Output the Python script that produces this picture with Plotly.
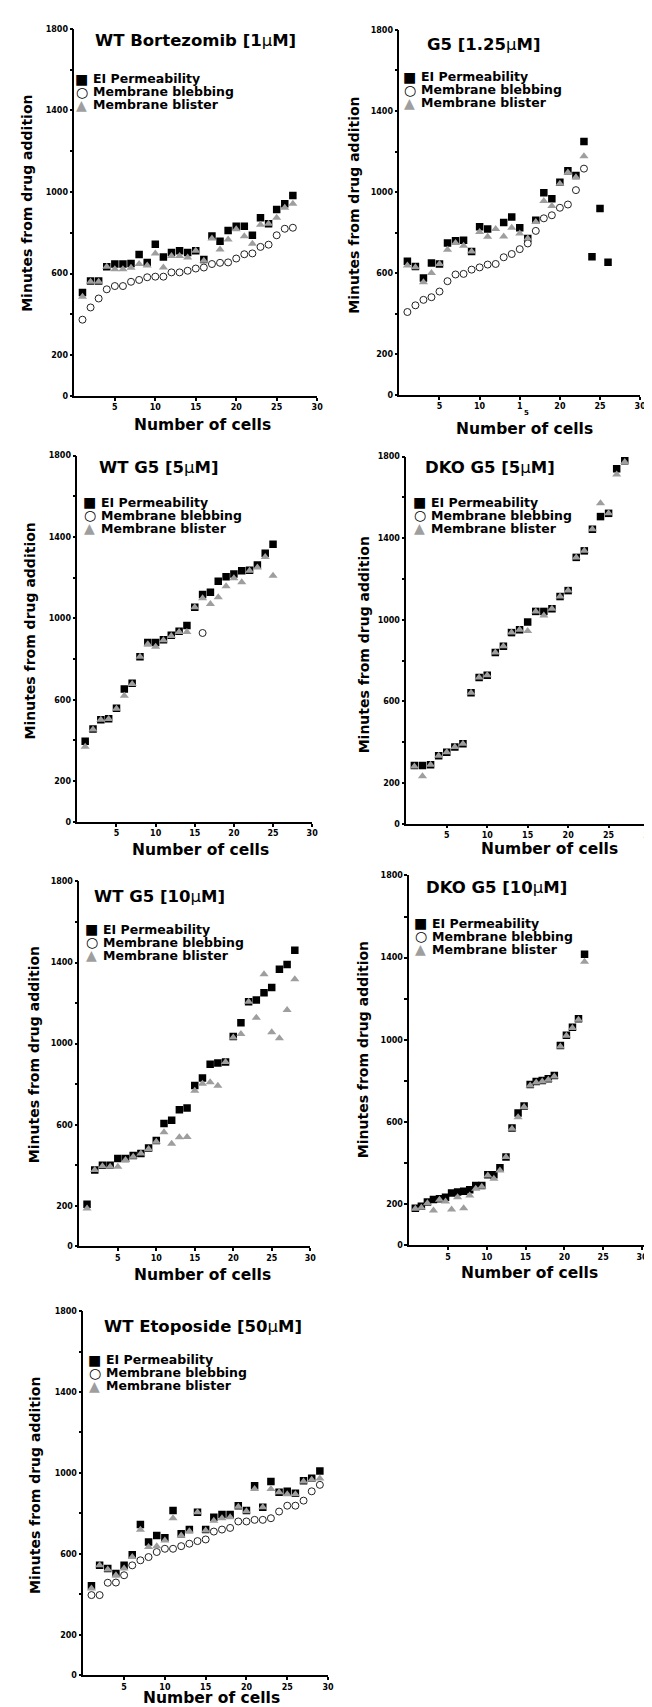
import plotly.graph_objects as go

# ---------------- data ----------------
titles = ["WT Bortezomib [1µM]", "G5 [1.25µM]", "WT G5 [5µM]", "DKO G5 [5µM]",
          "WT G5 [10µM]", "DKO G5 [10µM]", "WT Etoposide [50µM]"]
series_names = ["EI Permeability", "Membrane blebbing", "Membrane blister"]
x_ticks = [5, 10, 15, 20, 25, 30]
x_ticktext = ["5", "10", "15", "20", "25", "30"]
x_ticktext_g5 = ["5", "10", "1", "20", "25", "30"]
y_ticks = [0, 200, 400, 600, 800, 1000, 1200, 1400, 1600, 1800]
y_ticktext = ["0", "200", "", "600", "", "1000", "", "1400", "", "1800"]

# WT Bortezomib [1uM]
ei1 = [507, 564, 564, 634, 647, 647, 650, 694, 655, 744, 682, 703, 712, 703, 712, 669, 785, 759,
       812, 832, 832, 788, 874, 845, 915, 942, 983]
bleb1 = [374, 434, 478, 523, 539, 539, 560, 569, 582, 585, 585, 606, 606, 614, 625, 630, 647, 653,
         655, 674, 695, 699, 731, 742, 788, 820, 825]
blis1 = [487, 560, 560, 634, 621, 621, 629, 647, 640, 699, 630, 686, 686, 679, 712, 663, 772, 718,
         767, 817, 783, 747, 840, 845, 874, 923, 942]

# G5 [1.25uM]
ei2 = [659, 633, 577, 651, 646, 749, 760, 763, 708, 829, 818, None, 850, 878, 825, 772, 861, 997,
       968, 1049, 1106, 1082, 1250, 682, 919, 654]
bleb2 = [409, 442, 469, 482, 510, 561, 594, 597, 618, 629, 643, 646, 679, 695, 719, 747, 809, 871,
         886, 923, 939, 1010, 1116]
blis2 = [638, 630, 556, 602, 646, 716, 749, 736, 708, 804, 780, 818, 781, 825, 796, 772, 853, 956,
         932, 1042, 1097, 1074, 1177]

# WT G5 [5uM]
ei3 = [396, 456, 501, 506, 558, 653, 681, 811, 881, 881, 895, 917, 936, 965, 1055, 1117, 1128, 1182,
       1205, 1218, 1234, 1237, 1262, 1320, 1364]
bleb3 = [None, None, None, None, None, None, None, None, None, None, None, None, None, None, None,
         928]
blis3 = [368, 453, 501, 505, 555, 619, 677, 811, 873, 860, 892, 913, 933, 933, 1055, 1099, 1071, 1104,
         1158, 1197, 1177, 1234, 1250, 1302, 1210]

# DKO G5 [5uM]
ei4 = [285, 285, 289, 333, 350, 376, 392, 642, 717, 728, 839, 870, 937, 951, 989, 1041, 1041, 1054,
       1114, 1143, 1306, 1338, 1444, 1506, 1522, 1741, 1780]
bleb4 = []
blis4 = [281, 233, 289, 333, 350, 376, 392, 642, 717, 728, 839, 870, 937, 951, 945, 1041, 1021, 1054,
         1114, 1143, 1306, 1338, 1444, 1571, 1522, 1712, 1774]

# WT G5 [10uM]
ei5 = [208, 377, 401, 401, 434, 434, 449, 458, 486, 522, 606, 622, 674, 683, 794, 830, 899, 904,
       909, 1035, 1103, 1206, 1215, 1251, 1277, 1367, 1390, 1460]
bleb5 = []
blis5 = [187, 377, 396, 393, 393, 426, 442, 458, 481, 516, 563, 506, 539, 540, 768, 802, 810, 792,
         909, 1030, 1048, 1206, 1128, 1342, 1056, 1026, 1166, 1318]

# DKO G5 [10uM]
ei6 = [181, 191, 211, 224, 227, 235, 255, 260, 264, 271, 292, 292, 344, 344, 378, 430, 571, 644,
       678, 783, 798, 803, 811, 827, 973, 1022, 1062, 1103, 1417]
bleb6 = []
blis6 = [178, 183, 205, 170, 222, 214, 175, 235, 181, 243, 276, 285, 340, 324, 365, 430, 568, 624,
         673, 778, 793, 798, 806, 822, 968, 1020, 1058, 1098, 1380]

# WT Etoposide [50uM]
ei7 = [442, 543, 527, 503, 543, 596, 745, 658, 691, 679, 814, 699, 720, 805, 720, 781, 794, 794,
       838, 814, 936, 830, 958, 904, 909, 899, 961, 974, 1010]
bleb7 = [396, 396, 457, 458, 494, 543, 568, 584, 609, 625, 625, 638, 650, 663, 671, 710, 720, 728,
         760, 760, 768, 768, 776, 809, 838, 838, 863, 909, 941]
blis7 = [429, 543, 522, 494, 527, 584, 719, 634, 638, 666, 776, 691, 712, 805, 715, 764, 776, 781,
         833, 810, 920, 830, 920, 904, 895, 895, 958, 966, 972]

ei_all = [ei1, ei2, ei3, ei4, ei5, ei6, ei7]
bleb_all = [bleb1, bleb2, bleb3, bleb4, bleb5, bleb6, bleb7]
blis_all = [blis1, blis2, blis3, blis4, blis5, blis6, blis7]

# ---------------- layout geometry (pixels) ----------------
W, H = 652, 1707
# (x_left, x_right, y_top(1800), y_bottom(0))
boxes = [(67, 312, 17, 386), (395, 638, 18, 385), (70, 307, 446, 814), (402, 647, 447, 816),
         (72, 305, 874, 1241), (405, 649, 868, 1240), (76, 323, 1306, 1672)]
x_ranges = [30, 30, 30, 30, 30, 40, 30]
tick_scale = [1, 1, 1, 1, 1, 38.5 / 30, 1]
title_pos = [(189, 29), (480, 33), (152, 458), (486, 458), (153, 889), (493, 880), (197, 1321)]
legend_pos = [(70, [67, 80, 93]), (401, [65, 78, 91]), (78, [493, 506, 519]),
              (411, [493, 506, 519]), (80, [922, 935, 948]), (412, [916, 929, 942]),
              (83, [1355, 1368, 1381])]
ytitle_pos = [(19, 192), (349, 194), (22, 622), (359, 636), (27, 1048), (358, 1043), (27, 1481)]
xtitle_pos = [(196, 415), (521, 419), (194, 842), (547, 841), (196, 1270), (526, 1268), (205, 1695)]

FONT = "DejaVu Sans"
GRAY = "#9e9e9e"

def px(v):
    return v / W

def py(v):
    return 1 - v / H

fig = go.Figure()
layout = dict(width=W, height=H, margin=dict(l=0, r=0, t=0, b=0), autosize=False,
              paper_bgcolor="white", plot_bgcolor="white", showlegend=False,
              font=dict(family=FONT, color="black"))
annotations = []

for i in range(7):
    sfx = "" if i == 0 else str(i + 1)
    xa, ya = "x" + sfx, "y" + sfx
    ei, bleb, blis = ei_all[i], bleb_all[i], blis_all[i]
    fig.add_trace(go.Scatter(x=list(range(1, len(ei) + 1)), y=ei, mode="markers",
                             name=series_names[0], xaxis=xa, yaxis=ya,
                             marker=dict(symbol="square", size=7.5, color="black")))
    fig.add_trace(go.Scatter(x=list(range(1, len(bleb) + 1)), y=bleb, mode="markers",
                             name=series_names[1], xaxis=xa, yaxis=ya,
                             marker=dict(symbol="circle", size=7, color="white",
                                         line=dict(color="#222", width=1))))
    fig.add_trace(go.Scatter(x=list(range(1, len(blis) + 1)), y=blis, mode="markers",
                             name=series_names[2], xaxis=xa, yaxis=ya,
                             marker=dict(symbol="triangle-up", size=8, color=GRAY)))

    x0, x1, yt, yb = boxes[i]
    axis_common = dict(showline=True, linecolor="black", linewidth=1.6, ticks="outside",
                       ticklen=3, tickwidth=1.5, tickcolor="black", showgrid=False,
                       zeroline=False, fixedrange=True,
                       tickfont=dict(family=FONT, size=8, weight="bold", color="black"))
    layout["xaxis" + sfx] = dict(domain=[px(x0), px(x1)], range=[0, x_ranges[i]], anchor=ya,
                                 tickvals=[t * tick_scale[i] for t in x_ticks],
                                 ticktext=x_ticktext_g5 if i == 1 else x_ticktext,
                                 **axis_common)
    layout["yaxis" + sfx] = dict(domain=[py(yb), py(yt)], range=[0, 1800], anchor=xa,
                                 tickvals=y_ticks, ticktext=y_ticktext, **axis_common)

    # panel title
    tx, ty = title_pos[i]
    annotations.append(dict(x=px(tx), y=py(ty), xref="paper", yref="paper", showarrow=False,
                            xanchor="center", yanchor="middle",
                            text=titles[i].replace("µ", "<span style='font-weight:normal'>µ</span>"),
                            font=dict(family=FONT, size=16.5, weight="bold", color="black")))
    # legend rows
    gx, rows = legend_pos[i]
    glyphs = [("■", "black"), ("○", "black"), ("▲", GRAY)]
    for (g, col), ry, name in zip(glyphs, rows, series_names):
        annotations.append(dict(x=px(gx + 4.5), y=py(ry), xref="paper", yref="paper",
                                showarrow=False, xanchor="center", yanchor="middle", text=g,
                                font=dict(family=FONT, size=14, color=col)))
        annotations.append(dict(x=px(gx + 14), y=py(ry), xref="paper", yref="paper",
                                showarrow=False, xanchor="left", yanchor="middle", text=name,
                                font=dict(family=FONT, size=12.5, weight="bold", color="black")))
    # axis titles
    ax_, ay_ = ytitle_pos[i]
    annotations.append(dict(x=px(ax_), y=py(ay_), xref="paper", yref="paper", showarrow=False,
                            xanchor="center", yanchor="middle", textangle=-90,
                            text="Minutes from drug addition",
                            font=dict(family=FONT, size=14, weight="bold", color="black")))
    bx, by = xtitle_pos[i]
    annotations.append(dict(x=px(bx), y=py(by), xref="paper", yref="paper", showarrow=False,
                            xanchor="center", yanchor="middle", text="Number of cells",
                            font=dict(family=FONT, size=15.5, weight="bold", color="black")))

# the split "5" of the "15" tick label in the G5 [1.25uM] panel
annotations.append(dict(x=px(523), y=py(403), xref="paper", yref="paper", showarrow=False,
                        xanchor="center", yanchor="middle", text="5",
                        font=dict(family=FONT, size=7, weight="bold", color="black")))

layout["annotations"] = annotations
fig.update_layout(**layout)
fig.write_html("out.html")
